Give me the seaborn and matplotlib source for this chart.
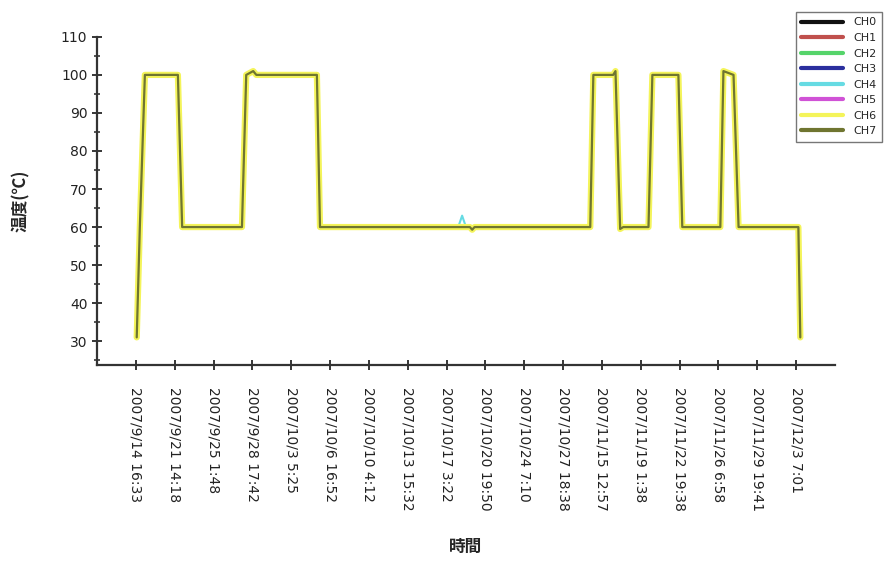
import matplotlib
matplotlib.use('Agg')
import matplotlib.pyplot as plt
import seaborn as sns
import pandas as pd

# tick labels (sample times shown on the x axis, one per tick)
time_labels = ['2007/9/14 16:33', '2007/9/21 14:18', '2007/9/25 1:48', '2007/9/28 17:42',
               '2007/10/3 5:25', '2007/10/6 16:52', '2007/10/10 4:12', '2007/10/13 15:32',
               '2007/10/17 3:22', '2007/10/20 19:50', '2007/10/24 7:10', '2007/10/27 18:38',
               '2007/11/15 12:57', '2007/11/19 1:38', '2007/11/22 19:38', '2007/11/26 6:58',
               '2007/11/29 19:41', '2007/12/3 7:01']

# sample position (in tick units) and temperature, common profile for the channels
sample_pos = [0.02, 0.10, 0.23, 1.08, 1.19, 2.73, 2.84, 3.02, 3.10, 4.66, 4.74,
              8.60, 8.66, 8.72, 11.70, 11.78, 12.29, 12.35, 12.47, 12.55, 13.20, 13.30, 13.97,
              14.07, 15.05, 15.13, 15.39, 15.52, 17.06, 17.11]
temp_base = [31, 60, 100, 100, 60, 60, 100, 101, 100, 100, 60,
             60, 59.3, 60, 60, 100, 100, 101, 59.5, 60, 60, 100, 100,
             60, 60, 101, 100, 60, 60, 31]

# CH4 has a short spike near 2007/10/17
ch4_pos = [0.02, 0.10, 0.23, 1.08, 1.19, 2.73, 2.84, 3.02, 3.10, 4.66, 4.74,
           8.30, 8.40, 8.50, 11.70, 11.78, 12.29, 12.35, 12.47, 12.55, 13.20, 13.30, 13.97,
           14.07, 15.05, 15.13, 15.39, 15.52, 17.06, 17.11]
ch4_temp = [31, 60, 100, 100, 60, 60, 100, 101, 100, 100, 60,
            60, 63, 60, 60, 100, 100, 101, 59.5, 60, 60, 100, 100,
            60, 60, 101, 100, 60, 60, 31]

channels = ['CH0', 'CH1', 'CH2', 'CH3', 'CH4', 'CH5', 'CH6', 'CH7']
colors = {'CH0': '#111111', 'CH1': '#c0504d', 'CH2': '#55d46a', 'CH3': '#2b2f9e',
          'CH4': '#66dbe3', 'CH5': '#d052d6', 'CH6': '#f4f45a', 'CH7': '#6f7530'}
widths = {'CH0': 1.5, 'CH1': 1.5, 'CH2': 1.5, 'CH3': 1.5,
          'CH4': 1.5, 'CH5': 1.5, 'CH6': 4.5, 'CH7': 1.6}

sns.set_style('ticks')
plt.rcParams['font.family'] = ['DejaVu Sans', 'Noto Sans CJK JP']

fig = plt.figure(figsize=(8.91, 5.67), dpi=100)
ax = fig.add_axes([0.109, 0.356, 0.828, 0.579])

for ch in channels:
    if ch == 'CH4':
        d = pd.DataFrame({'x': ch4_pos, 'y': ch4_temp})
    else:
        d = pd.DataFrame({'x': sample_pos, 'y': temp_base})
    sns.lineplot(data=d, x='x', y='y', ax=ax, color=colors[ch], lw=widths[ch],
                 sort=False, estimator=None, label=ch, legend=False)

ax.set_xlim(-1, 18)
ax.set_ylim(23.7, 110)
ax.set_xticks(range(len(time_labels)))
ax.set_xticklabels(time_labels, rotation=270, ha='center', va='top', fontsize=10,
                   color='#222222')
ax.set_yticks(range(30, 111, 10))
ax.set_yticks(range(25, 111, 5), minor=True)
ax.tick_params(axis='y', which='major', labelsize=10, direction='inout', length=7, width=1.3,
               labelcolor='#222222')
ax.tick_params(axis='y', which='minor', direction='inout', length=5, width=1.1)
ax.tick_params(axis='x', which='major', direction='inout', length=7, width=1.3, pad=12)
for s in ['top', 'right']:
    ax.spines[s].set_visible(False)
for s in ['left', 'bottom']:
    ax.spines[s].set_linewidth(1.6)
    ax.spines[s].set_color('#333333')

ax.set_ylabel('温度(℃)', fontsize=12, fontweight='bold',
              family=['Noto Sans CJK JP', 'DejaVu Sans'], labelpad=22)
ax.set_xlabel('時間', fontsize=12, fontweight='bold',
              family=['Noto Sans CJK JP', 'DejaVu Sans'], labelpad=20)

handles = [plt.Line2D([], [], color=colors[ch], lw=3) for ch in channels]
fig.legend(handles, channels, loc='upper left', bbox_to_anchor=(0.893, 0.979),
           fontsize=8, frameon=True, fancybox=False, edgecolor='#555555',
           handlelength=3.8, handletextpad=0.9, labelspacing=0.5, borderpad=0.5,
           borderaxespad=0)

plt.savefig('out.png', dpi=100)
plt.close()
